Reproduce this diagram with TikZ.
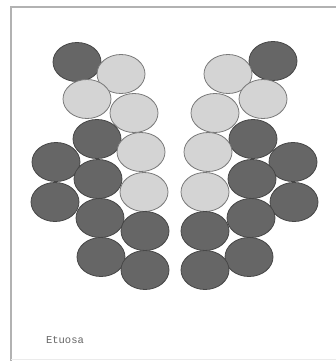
\documentclass[tikz,border=0pt]{standalone}
\usepackage{fontspec}
\newfontfamily\monofont{Liberation Mono}
\usetikzlibrary{shapes.geometric}

\tikzset{
  darkdisc/.style={ellipse, draw=black!72, fill=black!60, line width=0.8pt,
    minimum width=48pt, minimum height=39pt, inner sep=0pt},
  lightdisc/.style={ellipse, draw=black!52, fill=black!17, line width=0.8pt,
    minimum width=48pt, minimum height=39pt, inner sep=0pt}
}

\begin{document}
\begin{tikzpicture}[x=1pt, y=-1pt]
                    % Frame
                    \useasboundingbox (0,0) rectangle (336,361);
                    \fill[white] (0,0) rectangle (336,361);
                    \draw[black!30, line width=1.2pt] (11,361) -- (11,7) -- (336,7);
                    \draw[black!8, line width=0.8pt] (11,359) -- (336,359);
                    % Nodes, left
                    \node[darkdisc] (l1) at (77,62) {};
                    \node[lightdisc] (l2) at (121,74) {};
                    \node[lightdisc] (l3) at (87,99) {};
                    \node[lightdisc] (l4) at (134,113) {};
                    \node[darkdisc] (l5) at (97,139) {};
                    \node[lightdisc] (l6) at (141,152) {};
                    \node[darkdisc] (l7) at (56,162) {};
                    \node[darkdisc] (l8) at (98,179) {};
                    \node[lightdisc] (l9) at (144,192) {};
                    \node[darkdisc] (l10) at (55,202) {};
                    \node[darkdisc] (l11) at (100,218) {};
                    \node[darkdisc] (l12) at (145,231) {};
                    \node[darkdisc] (l13) at (101,257) {};
                    \node[darkdisc] (l14) at (145,270) {};
                    % Nodes, right
                    \node[darkdisc] (r1) at (273,61) {};
                    \node[lightdisc] (r2) at (228,74) {};
                    \node[lightdisc] (r3) at (263,99) {};
                    \node[lightdisc] (r4) at (215,113) {};
                    \node[darkdisc] (r5) at (253,139) {};
                    \node[lightdisc] (r6) at (208,152) {};
                    \node[darkdisc] (r7) at (293,162) {};
                    \node[darkdisc] (r8) at (252,179) {};
                    \node[lightdisc] (r9) at (205,192) {};
                    \node[darkdisc] (r10) at (294,202) {};
                    \node[darkdisc] (r11) at (251,218) {};
                    \node[darkdisc] (r12) at (205,231) {};
                    \node[darkdisc] (r13) at (249,257) {};
                    \node[darkdisc] (r14) at (205,270) {};
                    % Label
                    \node[text=black!60, font=\monofont\fontsize{10.5}{12}\selectfont] (name) at (65,340) {Etuosa};
                \end{tikzpicture}
\end{document}
